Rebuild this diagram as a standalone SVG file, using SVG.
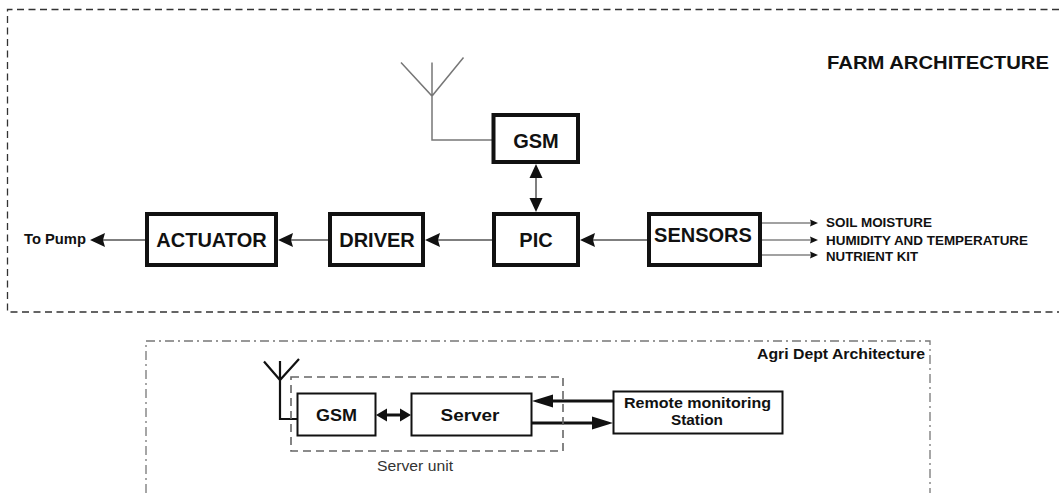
<svg xmlns="http://www.w3.org/2000/svg" width="1059" height="493" viewBox="0 0 1059 493">
  <defs>
    <style>
      .frame { fill: none; stroke: #333; stroke-width: 1.3; stroke-dasharray: 7 4.5; }
      .frame2 { fill: none; stroke: #777; stroke-width: 1.3; stroke-dasharray: 9 4 2 4; }
      .unit { fill: none; stroke: #666; stroke-width: 1.6; stroke-dasharray: 8 5; }
      .box { fill: #fff; stroke: #111; stroke-width: 4; }
      .box2 { fill: #fff; stroke: #111; stroke-width: 2; }
      .wire { fill: none; stroke: #555; stroke-width: 1.5; }
      .thin { fill: none; stroke: #444; stroke-width: 1.2; }
      .heavy { fill: none; stroke: #111; stroke-width: 3; }
      .ant { fill: none; stroke: #777; stroke-width: 1.5; }
      .ant2 { fill: none; stroke: #111; stroke-width: 2.2; }
      .lbl { font-family: "Liberation Sans", Arial, sans-serif; font-weight: bold; fill: #111; }
      .big { font-size: 20px; text-anchor: middle; }
      .small { font-size: 13px; }
      .mid { font-size: 16px; text-anchor: middle; }
      .note { font-family: "Liberation Sans", Arial, sans-serif; font-size: 14px; fill: #333; text-anchor: middle; }
      .head { fill: #111; }
    </style>
  </defs>

  <!-- section frames -->
  <path class="frame" d="M1059,9.5 H7.5 V312 H1059"/>
  <path class="frame2" d="M146,493 V341 H930 V493"/>

  <text class="lbl" x="827" y="69" font-size="18" textLength="222" lengthAdjust="spacingAndGlyphs">FARM ARCHITECTURE</text>
  <text class="lbl" x="757" y="359" font-size="14" textLength="168" lengthAdjust="spacingAndGlyphs">Agri Dept Architecture</text>
  <text class="note" x="415" y="471" textLength="76" lengthAdjust="spacingAndGlyphs">Server unit</text>

  <!-- connectors -->
  <g id="connectors">
    <!-- farm antenna -->
    <path class="ant" d="M401,62.5 L432,96 L463.5,57.5 M432,62.5 V140 H492"/>
    <!-- GSM <-> PIC -->
    <line class="wire" x1="536" y1="176" x2="536" y2="200"/>
    <polygon class="head" points="536,164 529.5,178 542.5,178"/>
    <polygon class="head" points="536,212 529.5,198 542.5,198"/>
    <!-- SENSORS -> PIC -->
    <line class="wire" x1="647" y1="240" x2="592" y2="240"/>
    <polygon class="head" points="580,240 595,233 593,240 595,247"/>
    <!-- PIC -> DRIVER -->
    <line class="wire" x1="492" y1="240" x2="437" y2="240"/>
    <polygon class="head" points="425,240 440,233 438,240 440,247"/>
    <!-- DRIVER -> ACTUATOR -->
    <line class="wire" x1="328" y1="240" x2="290" y2="240"/>
    <polygon class="head" points="278,240 293,233 291,240 293,247"/>
    <!-- ACTUATOR -> To Pump -->
    <line class="wire" x1="145" y1="240" x2="102" y2="240"/>
    <polygon class="head" points="90,240 105,233 103,240 105,247"/>
    <!-- sensor inputs -->
    <line class="thin" x1="762" y1="223" x2="812" y2="223"/>
    <polygon class="head" points="818,223 810,219.5 811,223 810,226.5"/>
    <line class="thin" x1="762" y1="240" x2="812" y2="240"/>
    <polygon class="head" points="818,240 810,236.5 811,240 810,243.5"/>
    <line class="thin" x1="762" y1="255" x2="812" y2="255"/>
    <polygon class="head" points="818,255 810,251.5 811,255 810,258.5"/>

    <!-- agri antenna -->
    <path class="ant2" d="M264,361.5 L280,380 L299,359 M280,361 V419 H297"/>
    <!-- GSM <-> Server -->
    <line class="heavy" x1="384" y1="415" x2="403" y2="415"/>
    <polygon class="head" points="376,415 387,408.5 387,421.5"/>
    <polygon class="head" points="411,415 400,408.5 400,421.5"/>
    <!-- Remote -> Server -->
    <line class="heavy" x1="613" y1="401" x2="550" y2="401"/>
    <polygon class="head" points="532,401 553,394.5 553,407.5"/>
    <!-- Server -> Remote -->
    <line class="heavy" x1="532" y1="423" x2="596" y2="423"/>
    <polygon class="head" points="613,423 592,416.5 592,429.5"/>
  </g>

  <!-- dashed outline grouping GSM and Server -->
  <path class="unit" d="M291,377 H563 V451 H291 Z"/>

  <g id="gsm">
    <rect class="box" x="493.5" y="115" width="84.5" height="47"/>
    <text class="lbl big" x="536" y="148">GSM</text>
  </g>
  <g id="pic">
    <rect class="box" x="494" y="214" width="84" height="51"/>
    <text class="lbl big" x="536" y="247">PIC</text>
  </g>
  <g id="sensors">
    <rect class="box" x="649" y="214" width="111" height="51"/>
    <text class="lbl big" x="703" y="242">SENSORS</text>
  </g>
  <g id="driver">
    <rect class="box" x="330" y="214" width="93" height="51"/>
    <text class="lbl big" x="377" y="247">DRIVER</text>
  </g>
  <g id="actuator">
    <rect class="box" x="147" y="214" width="129" height="51"/>
    <text class="lbl big" x="211.5" y="247">ACTUATOR</text>
  </g>
  <g id="to-pump">
    <text class="lbl" x="24" y="244" font-size="14" textLength="62" lengthAdjust="spacingAndGlyphs">To Pump</text>
  </g>
  <g id="sensor-labels">
    <text class="lbl small" x="826" y="227" textLength="106" lengthAdjust="spacingAndGlyphs">SOIL MOISTURE</text>
    <text class="lbl small" x="826" y="244.5" textLength="202" lengthAdjust="spacingAndGlyphs">HUMIDITY AND TEMPERATURE</text>
    <text class="lbl small" x="826" y="260.5" textLength="92" lengthAdjust="spacingAndGlyphs">NUTRIENT KIT</text>
  </g>

  <g id="gsm-server">
    <rect class="box2" x="297.5" y="393.5" width="78" height="42"/>
    <text class="lbl mid" x="336.5" y="421" textLength="41" lengthAdjust="spacingAndGlyphs">GSM</text>
  </g>
  <g id="server">
    <rect class="box2" x="411.5" y="393.5" width="120" height="42"/>
    <text class="lbl mid" x="470" y="421" textLength="59" lengthAdjust="spacingAndGlyphs">Server</text>
  </g>
  <g id="remote-station">
    <rect class="box2" x="613.5" y="391.5" width="169" height="42"/>
    <text class="lbl" x="697.5" y="408" font-size="15" text-anchor="middle" textLength="147" lengthAdjust="spacingAndGlyphs">Remote monitoring</text>
    <text class="lbl" x="697" y="424.5" font-size="15" text-anchor="middle" textLength="52" lengthAdjust="spacingAndGlyphs">Station</text>
  </g>
</svg>
